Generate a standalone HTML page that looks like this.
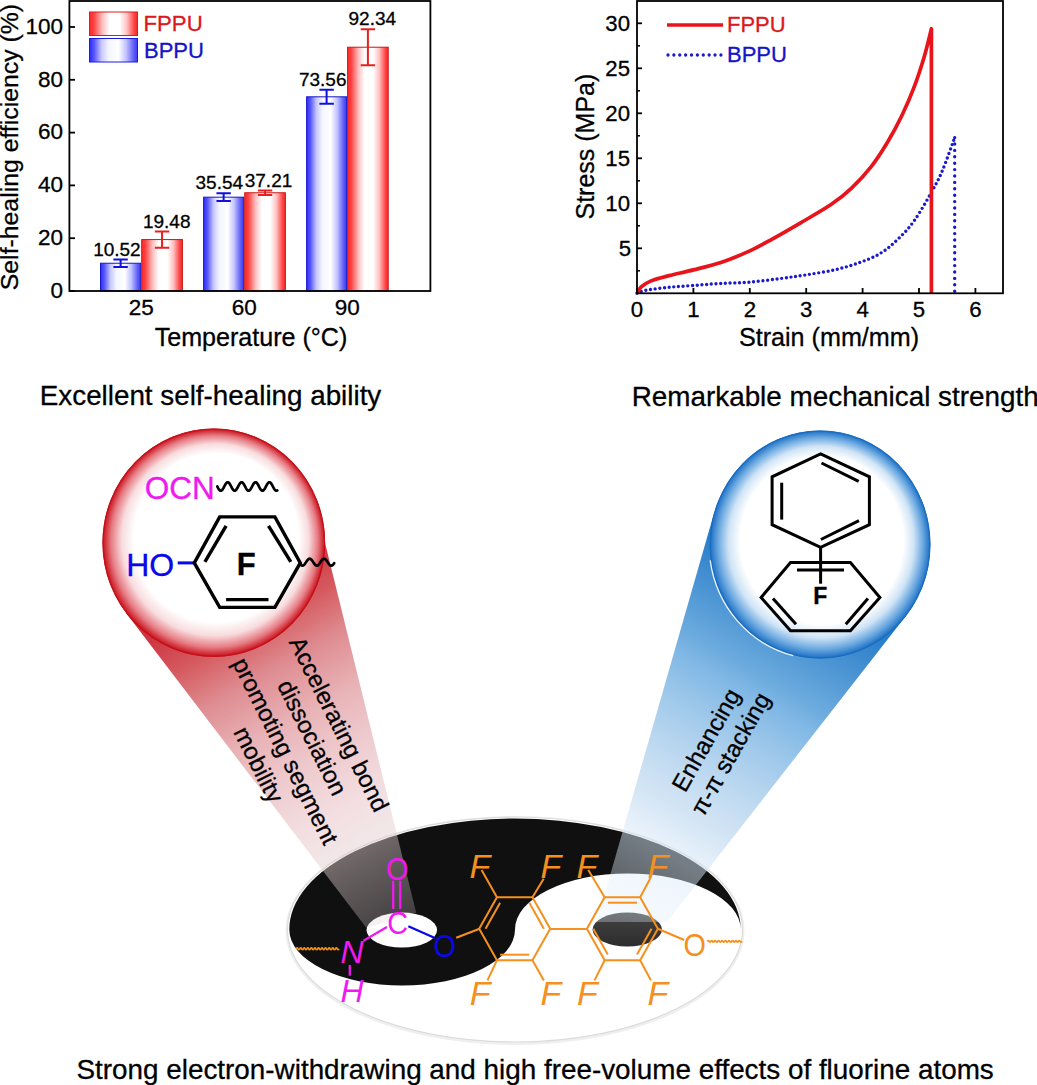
<!DOCTYPE html>
<html><head><meta charset="utf-8"><style>
html,body{margin:0;padding:0;background:#fff;overflow:hidden;width:1037px;height:1085px;}
svg{display:block;}
text{font-family:"Liberation Sans", sans-serif;stroke-width:0.3px;}
</style></head><body>
<svg width="1037" height="1085" viewBox="0 0 1037 1085">
<defs>
<linearGradient id="geye" x1="0" y1="0" x2="0" y2="1">
 <stop offset="0" stop-color="#444"/><stop offset="1" stop-color="#2c2c2c"/>
</linearGradient>
<linearGradient id="gcr" gradientUnits="userSpaceOnUse" x1="214" y1="600" x2="395" y2="925">
 <stop offset="0" stop-color="#cd3240"/>
 <stop offset="0.12" stop-color="#d55a5f"/>
 <stop offset="0.24" stop-color="#de8c91"/>
 <stop offset="0.38" stop-color="#e8b2b6"/>
 <stop offset="0.66" stop-color="#ebc8cd" stop-opacity="0.6"/>
 <stop offset="0.82" stop-color="#dfcfcf" stop-opacity="0.42"/>
 <stop offset="1" stop-color="#dccdd2" stop-opacity="0.25"/>
</linearGradient>
<linearGradient id="gcb" gradientUnits="userSpaceOnUse" x1="820" y1="600" x2="630" y2="925">
 <stop offset="0" stop-color="#287dc8"/>
 <stop offset="0.11" stop-color="#4691d2"/>
 <stop offset="0.26" stop-color="#6eacde"/>
 <stop offset="0.30" stop-color="#7db6e4"/>
 <stop offset="0.68" stop-color="#b9d5ee" stop-opacity="0.6"/>
 <stop offset="0.79" stop-color="#d8e8f8" stop-opacity="0.5"/>
 <stop offset="1" stop-color="#e0eefa" stop-opacity="0.3"/>
</linearGradient>
<radialGradient id="gcirr" cx="0.5" cy="0.5" r="0.5" fx="0.54" fy="0.42">
 <stop offset="0" stop-color="#fff"/><stop offset="0.74" stop-color="#fff"/><stop offset="0.84" stop-color="#f8dcde"/><stop offset="0.93" stop-color="#e67a82"/><stop offset="1" stop-color="#c80c16"/>
</radialGradient>
<radialGradient id="gcirb" cx="0.5" cy="0.5" r="0.5" fx="0.53" fy="0.43">
 <stop offset="0" stop-color="#fff"/><stop offset="0.74" stop-color="#fff"/><stop offset="0.84" stop-color="#d0e4f6"/><stop offset="0.93" stop-color="#6aa8e0"/><stop offset="1" stop-color="#1a6ec4"/>
</radialGradient>

<linearGradient id="gb" x1="0" x2="1" y1="0" y2="0">
 <stop offset="0" stop-color="#2a2aff"/><stop offset="0.1" stop-color="#5a5aff"/><stop offset="0.25" stop-color="#c8c8ff"/><stop offset="0.4" stop-color="#f4f6ff"/><stop offset="0.6" stop-color="#ffffff"/><stop offset="0.76" stop-color="#c4c4ff"/><stop offset="0.92" stop-color="#6060f8"/><stop offset="1" stop-color="#3a3af0"/>
</linearGradient>
<linearGradient id="gr" x1="0" x2="1" y1="0" y2="0">
 <stop offset="0" stop-color="#ff2a2a"/><stop offset="0.08" stop-color="#ff3c3c"/><stop offset="0.27" stop-color="#ffc0c0"/><stop offset="0.42" stop-color="#ffffff"/><stop offset="0.63" stop-color="#ffffff"/><stop offset="0.78" stop-color="#ffc0c0"/><stop offset="0.93" stop-color="#ff4444"/><stop offset="1" stop-color="#f02a2a"/>
</linearGradient>
</defs>
<rect width="1037" height="1085" fill="#fff"/>
<g id="chart1">
<rect x="100.5" y="263.2272" width="40.19999999999999" height="27.772800000000018" fill="url(#gb)" stroke="#1818c8" stroke-width="1"/>
<rect x="141.7" y="239.5728" width="40.70000000000002" height="51.4272" fill="url(#gr)" stroke="#c81818" stroke-width="1"/>
<rect x="203.6" y="197.1744" width="40.099999999999994" height="93.82560000000001" fill="url(#gb)" stroke="#1818c8" stroke-width="1"/>
<rect x="244.7" y="192.7656" width="40.69999999999999" height="98.2344" fill="url(#gr)" stroke="#c81818" stroke-width="1"/>
<rect x="306.6" y="96.80159999999998" width="40.0" height="194.19840000000002" fill="url(#gb)" stroke="#1818c8" stroke-width="1"/>
<rect x="347.6" y="47.22239999999999" width="40.599999999999966" height="243.7776" fill="url(#gr)" stroke="#c81818" stroke-width="1"/>
<path d="M113.39999999999999 259.4256H127.8M120.6 259.4256V267.0288M113.39999999999999 267.0288H127.8" stroke="#1010e0" stroke-width="2" fill="none"/>
<path d="M154.85000000000002 231.3888H169.25M162.05 231.3888V247.7568M154.85000000000002 247.7568H169.25" stroke="#e82020" stroke-width="2" fill="none"/>
<path d="M216.45 193.3464H230.84999999999997M223.64999999999998 193.3464V201.00240000000002M216.45 201.00240000000002H230.84999999999997" stroke="#1010e0" stroke-width="2" fill="none"/>
<path d="M257.84999999999997 190.4688H272.24999999999994M265.04999999999995 190.4688V195.06239999999997M257.84999999999997 195.06239999999997H272.24999999999994" stroke="#e82020" stroke-width="2" fill="none"/>
<path d="M319.40000000000003 89.80559999999997H333.8M326.6 89.80559999999997V103.79759999999999M319.40000000000003 103.79759999999999H333.8" stroke="#1010e0" stroke-width="2" fill="none"/>
<path d="M360.7 29.270399999999995H375.09999999999997M367.9 29.270399999999995V65.17439999999996M360.7 65.17439999999996H375.09999999999997" stroke="#e82020" stroke-width="2" fill="none"/>
<rect x="69.4" y="1" width="361" height="290" fill="none" stroke="#000" stroke-width="1.8"/>
<line x1="69.4" y1="291.0" x2="75" y2="291.0" stroke="#000" stroke-width="1.8"/>
<text x="63" y="297.8" text-anchor="end" font-size="22.5" stroke="#000">0</text>
<line x1="69.4" y1="238.2" x2="75" y2="238.2" stroke="#000" stroke-width="1.8"/>
<text x="63" y="245.0" text-anchor="end" font-size="22.5" stroke="#000">20</text>
<line x1="69.4" y1="185.39999999999998" x2="75" y2="185.39999999999998" stroke="#000" stroke-width="1.8"/>
<text x="63" y="192.2" text-anchor="end" font-size="22.5" stroke="#000">40</text>
<line x1="69.4" y1="132.6" x2="75" y2="132.6" stroke="#000" stroke-width="1.8"/>
<text x="63" y="139.4" text-anchor="end" font-size="22.5" stroke="#000">60</text>
<line x1="69.4" y1="79.79999999999998" x2="75" y2="79.79999999999998" stroke="#000" stroke-width="1.8"/>
<text x="63" y="86.59999999999998" text-anchor="end" font-size="22.5" stroke="#000">80</text>
<line x1="69.4" y1="27.0" x2="75" y2="27.0" stroke="#000" stroke-width="1.8"/>
<text x="63" y="33.8" text-anchor="end" font-size="22.5" stroke="#000">100</text>
<text x="116.9" y="256.4" text-anchor="middle" font-size="19" stroke="#000">10.52</text>
<text x="166.7" y="227.5" text-anchor="middle" font-size="19" stroke="#000">19.48</text>
<text x="219.3" y="189.3" text-anchor="middle" font-size="19" stroke="#000">35.54</text>
<text x="268.5" y="186.8" text-anchor="middle" font-size="19" stroke="#000">37.21</text>
<text x="322.7" y="85.6" text-anchor="middle" font-size="19" stroke="#000">73.56</text>
<text x="372.3" y="24.8" text-anchor="middle" font-size="19" stroke="#000">92.34</text>
<text x="141.2" y="314.5" text-anchor="middle" font-size="22.5" stroke="#000">25</text>
<text x="244.2" y="314.5" text-anchor="middle" font-size="22.5" stroke="#000">60</text>
<text x="347.2" y="314.5" text-anchor="middle" font-size="22.5" stroke="#000">90</text>
<text x="251" y="346.4" text-anchor="middle" font-size="25.1" stroke="#000">Temperature (°C)</text>
<text transform="translate(17.5,147.1) rotate(-90)" text-anchor="middle" font-size="24.8" stroke="#000">Self-healing efficiency (%)</text>
<rect x="89.5" y="12" width="48" height="23.5" fill="url(#gr)" stroke="#e01a1a" stroke-width="1"/>
<rect x="89.5" y="38.5" width="48" height="23.5" fill="url(#gb)" stroke="#1a1ae6" stroke-width="1"/>
<text x="143.5" y="30.8" font-size="22.2" fill="#dc1820" stroke="#dc1820">FPPU</text>
<text x="144" y="58" font-size="22" fill="#1414c8" stroke="#1414c8">BPPU</text>
</g>
<g id="chart2">
<path d="M637.00 293.30 C638.50 292.79 640.67 291.25 646.02 290.24 C651.38 289.24 661.25 288.07 669.15 287.27 C677.04 286.48 684.94 286.10 693.40 285.47 C701.86 284.84 710.51 284.05 719.91 283.49 C729.31 282.94 739.74 282.96 749.80 282.14 C759.86 281.31 770.86 279.75 780.26 278.54 C789.66 277.33 797.18 276.29 806.20 274.85 C815.22 273.41 825.56 271.93 834.40 269.90 C843.24 267.88 851.51 265.49 859.22 262.70 C866.92 259.91 874.20 257.09 880.65 253.16 C887.10 249.23 892.31 244.52 897.91 239.12 C903.50 233.72 908.45 228.88 914.21 220.76 C919.96 212.64 927.69 198.88 932.42 190.43 C937.15 181.99 938.86 178.90 942.58 170.09 C946.29 161.29 952.68 143.01 954.70 137.60" fill="none" stroke="#1a1acc" stroke-width="3.4" stroke-dasharray="0 4.7" stroke-linecap="round"/>
<path d="M954.70 137.6 L954.70 293.3" fill="none" stroke="#1a1acc" stroke-width="3.4" stroke-dasharray="0 6.4" stroke-linecap="round"/>
<path d="M637.00 293.30 C637.75 292.21 639.16 288.80 641.51 286.73 C643.86 284.66 646.49 282.73 651.10 280.88 C655.71 279.03 662.10 277.49 669.15 275.66 C676.20 273.83 684.66 272.14 693.40 269.90 C702.14 267.67 712.20 265.43 721.60 262.25 C731.00 259.07 741.37 254.68 749.80 250.82 C758.23 246.97 763.72 243.78 772.19 239.12 C780.66 234.46 790.81 228.59 800.62 222.83 C810.42 217.07 822.57 210.31 831.02 204.56 C839.47 198.81 844.55 194.78 851.32 188.36 C858.09 181.94 865.54 173.81 871.62 166.04 C877.71 158.27 882.74 150.20 887.81 141.74 C892.88 133.28 897.62 124.42 902.02 115.28 C906.42 106.14 910.49 96.73 914.21 86.93 C917.92 77.14 921.43 66.22 924.30 56.51 C927.17 46.81 930.22 33.34 931.41 28.70 L931.41 293.3" fill="none" stroke="#e8141c" stroke-width="3.7" stroke-linejoin="round"/>
<rect x="637" y="1" width="366" height="292.3" fill="none" stroke="#000" stroke-width="1.8"/>
<line x1="637" y1="248.3" x2="642" y2="248.3" stroke="#000" stroke-width="1.8"/>
<text x="631" y="255.8" text-anchor="end" font-size="22.2" stroke="#000">5</text>
<line x1="637" y1="203.3" x2="642" y2="203.3" stroke="#000" stroke-width="1.8"/>
<text x="630" y="210.8" text-anchor="end" font-size="22.2" stroke="#000">10</text>
<line x1="637" y1="158.3" x2="642" y2="158.3" stroke="#000" stroke-width="1.8"/>
<text x="630" y="165.8" text-anchor="end" font-size="22.2" stroke="#000">15</text>
<line x1="637" y1="113.30000000000001" x2="642" y2="113.30000000000001" stroke="#000" stroke-width="1.8"/>
<text x="630" y="120.80000000000001" text-anchor="end" font-size="22.2" stroke="#000">20</text>
<line x1="637" y1="68.30000000000001" x2="642" y2="68.30000000000001" stroke="#000" stroke-width="1.8"/>
<text x="630" y="75.80000000000001" text-anchor="end" font-size="22.2" stroke="#000">25</text>
<line x1="637" y1="23.30000000000001" x2="642" y2="23.30000000000001" stroke="#000" stroke-width="1.8"/>
<text x="630" y="30.80000000000001" text-anchor="end" font-size="22.2" stroke="#000">30</text>
<line x1="637" y1="270.8" x2="640" y2="270.8" stroke="#000" stroke-width="1.5"/>
<line x1="637" y1="225.8" x2="640" y2="225.8" stroke="#000" stroke-width="1.5"/>
<line x1="637" y1="180.8" x2="640" y2="180.8" stroke="#000" stroke-width="1.5"/>
<line x1="637" y1="135.8" x2="640" y2="135.8" stroke="#000" stroke-width="1.5"/>
<line x1="637" y1="90.80000000000001" x2="640" y2="90.80000000000001" stroke="#000" stroke-width="1.5"/>
<line x1="637" y1="45.80000000000001" x2="640" y2="45.80000000000001" stroke="#000" stroke-width="1.5"/>
<line x1="637.0" y1="293.3" x2="637.0" y2="288" stroke="#000" stroke-width="1.8"/>
<text x="637.0" y="316.8" text-anchor="middle" font-size="22.2" stroke="#000">0</text>
<line x1="693.4" y1="293.3" x2="693.4" y2="288" stroke="#000" stroke-width="1.8"/>
<text x="693.4" y="316.8" text-anchor="middle" font-size="22.2" stroke="#000">1</text>
<line x1="749.8" y1="293.3" x2="749.8" y2="288" stroke="#000" stroke-width="1.8"/>
<text x="749.8" y="316.8" text-anchor="middle" font-size="22.2" stroke="#000">2</text>
<line x1="806.2" y1="293.3" x2="806.2" y2="288" stroke="#000" stroke-width="1.8"/>
<text x="806.2" y="316.8" text-anchor="middle" font-size="22.2" stroke="#000">3</text>
<line x1="862.6" y1="293.3" x2="862.6" y2="288" stroke="#000" stroke-width="1.8"/>
<text x="862.6" y="316.8" text-anchor="middle" font-size="22.2" stroke="#000">4</text>
<line x1="919.0" y1="293.3" x2="919.0" y2="288" stroke="#000" stroke-width="1.8"/>
<text x="919.0" y="316.8" text-anchor="middle" font-size="22.2" stroke="#000">5</text>
<line x1="975.4" y1="293.3" x2="975.4" y2="288" stroke="#000" stroke-width="1.8"/>
<text x="975.4" y="316.8" text-anchor="middle" font-size="22.2" stroke="#000">6</text>
<text x="829" y="345.5" text-anchor="middle" font-size="25.15" stroke="#000">Strain (mm/mm)</text>
<text transform="translate(594,146.6) rotate(-90)" text-anchor="middle" font-size="25" stroke="#000">Stress (MPa)</text>
<line x1="667" y1="25" x2="723" y2="25" stroke="#e8141c" stroke-width="3.5"/>
<line x1="668" y1="55" x2="721" y2="55" stroke="#1a1acc" stroke-width="3.3" stroke-dasharray="0 5.88" stroke-linecap="round"/>
<text x="727" y="32.4" font-size="22" fill="#dc1820" stroke="#dc1820">FPPU</text>
<text x="727" y="62" font-size="22" fill="#1414c8" stroke="#1414c8">BPPU</text>
</g>
<text x="39.8" y="405" font-size="27.8" stroke="#000">Excellent self-healing ability</text>
<text x="631.7" y="405.6" font-size="27.85" stroke="#000">Remarkable mechanical strength</text>
<text x="76.5" y="1079" font-size="27.85" stroke="#000">Strong electron-withdrawing and high free-volume effects of fluorine atoms</text>
<ellipse cx="515.0" cy="930.5" rx="228.0" ry="113.0" fill="none" stroke="#efefef" stroke-width="3"/>
<ellipse cx="515.0" cy="929.5" rx="227.5" ry="112.5" fill="#fff" stroke="#dcdcdc" stroke-width="1.2"/>
<path d="M289.3 929.5 A225.7 111.0 0 0 1 740.7 929.5 A112.85000000000002 56 0 0 0 515.0 929.5 A112.85 56 0 0 1 289.3 929.5 Z" fill="#101010"/>
<ellipse cx="401.8" cy="930.1" rx="35.3" ry="17.5" fill="#fff"/>
<ellipse cx="627.3" cy="929.5" rx="34.7" ry="17" fill="url(#geye)"/>
<path d="M126.1 613 L366.5 928 L416.2 912.8 L318.3 515.6 L213.8 542.7 Z" fill="url(#gcr)"/>
<path d="M714.3 512.2 L596.7 922 L666.9 922 L905.9 616 L820.1 544.5 Z" fill="url(#gcb)"/>
<path d="M296.3 948.8 Q297.18958333333336 947.0 298.07916666666665 948.8 Q298.96875 950.5999999999999 299.85833333333335 948.8 Q300.7479166666667 947.0 301.6375 948.8 Q302.52708333333334 950.5999999999999 303.4166666666667 948.8 Q304.30625000000003 947.0 305.1958333333333 948.8 Q306.0854166666667 950.5999999999999 306.975 948.8 Q307.86458333333337 947.0 308.75416666666666 948.8 Q309.64375 950.5999999999999 310.53333333333336 948.8 Q311.4229166666667 947.0 312.3125 948.8 Q313.20208333333335 950.5999999999999 314.0916666666667 948.8 Q314.98125000000005 947.0 315.87083333333334 948.8 Q316.7604166666667 950.5999999999999 317.65000000000003 948.8 Q318.5395833333333 947.0 319.4291666666666 948.8 Q320.31874999999997 950.5999999999999 321.2083333333333 948.8 Q322.09791666666666 947.0 322.98749999999995 948.8 Q323.8770833333333 950.5999999999999 324.76666666666665 948.8 Q325.65625 947.0 326.5458333333333 948.8 Q327.43541666666664 950.5999999999999 328.325 948.8 Q329.21458333333334 947.0 330.10416666666663 948.8 Q330.99375 950.5999999999999 331.8833333333333 948.8 Q332.7729166666667 947.0 333.66249999999997 948.8 Q334.5520833333333 950.5999999999999 335.44166666666666 948.8 Q336.33125 947.0 337.2208333333333 948.8 Q338.11041666666665 950.5999999999999 339.0 948.8" fill="none" stroke="#f5901e" stroke-width="1.6"/>
<path d="M707.3 941.4 Q708.1674999999999 939.6 709.035 941.4 Q709.9024999999999 943.1999999999999 710.77 941.4 Q711.6374999999999 939.6 712.505 941.4 Q713.3725 943.1999999999999 714.24 941.4 Q715.1075 939.6 715.975 941.4 Q716.8425 943.1999999999999 717.71 941.4 Q718.5774999999999 939.6 719.4449999999999 941.4 Q720.3124999999999 943.1999999999999 721.18 941.4 Q722.0474999999999 939.6 722.915 941.4 Q723.7824999999999 943.1999999999999 724.65 941.4 Q725.5174999999999 939.6 726.385 941.4 Q727.2524999999999 943.1999999999999 728.12 941.4 Q728.9875 939.6 729.855 941.4 Q730.7225 943.1999999999999 731.59 941.4 Q732.4575 939.6 733.325 941.4 Q734.1925 943.1999999999999 735.0600000000001 941.4 Q735.9274999999999 939.6 736.795 941.4 Q737.6624999999999 943.1999999999999 738.53 941.4 Q739.3974999999999 939.6 740.265 941.4 Q741.1324999999999 943.1999999999999 742.0 941.4" fill="none" stroke="#f5901e" stroke-width="1.6"/>
<text x="397.3" y="880.3" text-anchor="middle" font-size="32" fill="#f01af0" stroke="none" transform="translate(397.3 0) scale(0.9 1) translate(-397.3 0)">O</text>
<line x1="393.2" y1="880.7" x2="393.2" y2="909" stroke="#f01af0" stroke-width="2.3" stroke-linecap="butt"/>
<line x1="400.2" y1="880.7" x2="400.2" y2="909" stroke="#f01af0" stroke-width="2.3" stroke-linecap="butt"/>
<text x="397.6" y="933.8" text-anchor="middle" font-size="32" fill="#f01af0" stroke="none" transform="translate(397.6 0) scale(0.9 1) translate(-397.6 0)">C</text>
<line x1="387" y1="927" x2="363.4" y2="940.8" stroke="#f01af0" stroke-width="2.3" stroke-linecap="butt"/>
<text x="352" y="962.8" text-anchor="middle" font-size="32" font-style="italic" fill="#f01af0" stroke="none">N</text>
<line x1="349.8" y1="965" x2="349.8" y2="975.7" stroke="#f01af0" stroke-width="2.3" stroke-linecap="butt"/>
<text x="352" y="1001.6" text-anchor="middle" font-size="32" font-style="italic" fill="#f01af0" stroke="none">H</text>
<line x1="408.3" y1="926.3" x2="434.9" y2="938" stroke="#0808e8" stroke-width="2.3" stroke-linecap="butt"/>
<text x="444.8" y="957.5" text-anchor="middle" font-size="32" fill="#0808e8" stroke="none" transform="translate(444.8 0) scale(0.9 1) translate(-444.8 0)">O</text>
<line x1="456.2" y1="937.7" x2="479.6" y2="928.7" stroke="#f5901e" stroke-width="2.2" stroke-linecap="butt"/>
<path d="M479.20 928.70 L496.95 897.20 L532.45 897.20 L550.20 928.70 L532.45 960.20 L496.95 960.20 Z" fill="none" stroke="#f5901e" stroke-width="2.0" stroke-linejoin="miter"/>
<line x1="485.53" y1="928.67" x2="500.09" y2="902.84" stroke="#f5901e" stroke-width="2.0" stroke-linecap="butt"/>
<line x1="529.31" y1="902.84" x2="543.87" y2="928.67" stroke="#f5901e" stroke-width="2.0" stroke-linecap="butt"/>
<line x1="529.25" y1="954.7" x2="500.15" y2="954.7" stroke="#f5901e" stroke-width="2.0" stroke-linecap="butt"/>
<path d="M586.90 928.70 L604.65 897.20 L640.15 897.20 L657.90 928.70 L640.15 960.20 L604.65 960.20 Z" fill="none" stroke="#f5901e" stroke-width="2.0" stroke-linejoin="miter"/>
<line x1="607.85" y1="902.7" x2="636.95" y2="902.7" stroke="#f5901e" stroke-width="2.0" stroke-linecap="butt"/>
<line x1="651.57" y1="928.73" x2="637.01" y2="954.56" stroke="#f5901e" stroke-width="2.0" stroke-linecap="butt"/>
<line x1="607.79" y1="954.56" x2="593.23" y2="928.73" stroke="#f5901e" stroke-width="2.0" stroke-linecap="butt"/>
<line x1="550.2" y1="929" x2="586.9" y2="929" stroke="#f5901e" stroke-width="2.0" stroke-linecap="butt"/>
<line x1="657.9" y1="928.7" x2="684.2" y2="939.9" stroke="#f5901e" stroke-width="2.2" stroke-linecap="butt"/>
<text x="694.8" y="956.4" text-anchor="middle" font-size="32" fill="#f5901e" stroke="none" transform="translate(694.8 0) scale(0.9 1) translate(-694.8 0)">O</text>
<line x1="496.95000000000005" y1="897.2" x2="481.6" y2="870" stroke="#f5901e" stroke-width="2.0" stroke-linecap="butt"/>
<text x="479.8" y="878.3" text-anchor="middle" font-size="34" font-style="italic" fill="#f5901e" stroke="none">F</text>
<line x1="532.45" y1="897.2" x2="543.7" y2="878.8" stroke="#f5901e" stroke-width="2.0" stroke-linecap="butt"/>
<text x="550.8" y="878.3" text-anchor="middle" font-size="34" font-style="italic" fill="#f5901e" stroke="none">F</text>
<line x1="604.65" y1="897.2" x2="588.3" y2="870" stroke="#f5901e" stroke-width="2.0" stroke-linecap="butt"/>
<text x="587" y="878.3" text-anchor="middle" font-size="34" font-style="italic" fill="#f5901e" stroke="none">F</text>
<line x1="640.15" y1="897.2" x2="650.5" y2="878" stroke="#f5901e" stroke-width="2.0" stroke-linecap="butt"/>
<text x="658" y="878.3" text-anchor="middle" font-size="34" font-style="italic" fill="#f5901e" stroke="none">F</text>
<line x1="496.95000000000005" y1="960.2" x2="487.5" y2="980.4" stroke="#f5901e" stroke-width="2.0" stroke-linecap="butt"/>
<text x="480.2" y="1005.2" text-anchor="middle" font-size="34" font-style="italic" fill="#f5901e" stroke="none">F</text>
<line x1="532.45" y1="960.2" x2="543.9" y2="980.4" stroke="#f5901e" stroke-width="2.0" stroke-linecap="butt"/>
<text x="551" y="1005.2" text-anchor="middle" font-size="34" font-style="italic" fill="#f5901e" stroke="none">F</text>
<line x1="604.65" y1="960.2" x2="594.5" y2="980.4" stroke="#f5901e" stroke-width="2.0" stroke-linecap="butt"/>
<text x="587.3" y="1005.2" text-anchor="middle" font-size="34" font-style="italic" fill="#f5901e" stroke="none">F</text>
<line x1="640.15" y1="960.2" x2="650.9" y2="980.4" stroke="#f5901e" stroke-width="2.0" stroke-linecap="butt"/>
<text x="658" y="1005.2" text-anchor="middle" font-size="34" font-style="italic" fill="#f5901e" stroke="none">F</text>
<ellipse cx="213.8" cy="542.7" rx="111.3" ry="114.1" fill="url(#gcirr)"/>
<ellipse cx="213.8" cy="542.7" rx="110.8" ry="113.6" fill="none" stroke="#c4101a" stroke-width="1.2"/>
<ellipse cx="820.1" cy="544.5" rx="110.3" ry="113.9" fill="url(#gcirb)"/>
<ellipse cx="820.1" cy="544.5" rx="109.8" ry="113.4" fill="none" stroke="#1a6cc0" stroke-width="1.2"/>
<path d="M710.2 560.4 A111.0 114.6 0 0 0 793.2 655.7" fill="none" stroke="#fff" stroke-width="1.3" stroke-opacity="0.9"/>
<text x="179.7" y="499.2" text-anchor="middle" font-size="31.5" fill="#f01af0" stroke="#f01af0">OCN</text>
<path d="M217.30 486.50 L217.63 487.13 L217.96 487.75 L218.29 488.35 L218.63 488.90 L218.96 489.39 L219.29 489.83 L219.62 490.18 L219.95 490.46 L220.28 490.65 L220.61 490.74 L220.95 490.74 L221.28 490.64 L221.61 490.45 L221.94 490.17 L222.27 489.81 L222.60 489.38 L222.94 488.88 L223.27 488.33 L223.60 487.73 L223.93 487.11 L224.26 486.48 L224.59 485.84 L224.92 485.22 L225.26 484.63 L225.59 484.08 L225.92 483.59 L226.25 483.16 L226.58 482.80 L226.91 482.53 L227.24 482.35 L227.58 482.26 L227.91 482.26 L228.24 482.36 L228.57 482.56 L228.90 482.84 L229.23 483.20 L229.57 483.64 L229.90 484.14 L230.23 484.69 L230.56 485.29 L230.89 485.91 L231.22 486.54 L231.55 487.18 L231.89 487.80 L232.22 488.39 L232.55 488.93 L232.88 489.43 L233.21 489.85 L233.54 490.21 L233.87 490.47 L234.21 490.65 L234.54 490.74 L234.87 490.73 L235.20 490.63 L235.53 490.44 L235.86 490.15 L236.20 489.79 L236.53 489.35 L236.86 488.84 L237.19 488.29 L237.52 487.69 L237.85 487.07 L238.18 486.43 L238.52 485.80 L238.85 485.18 L239.18 484.59 L239.51 484.05 L239.84 483.56 L240.17 483.13 L240.50 482.78 L240.84 482.52 L241.17 482.34 L241.50 482.26 L241.83 482.27 L242.16 482.37 L242.49 482.57 L242.82 482.86 L243.16 483.23 L243.49 483.67 L243.82 484.17 L244.15 484.73 L244.48 485.33 L244.81 485.95 L245.15 486.59 L245.48 487.22 L245.81 487.84 L246.14 488.42 L246.47 488.97 L246.80 489.46 L247.13 489.88 L247.47 490.23 L247.80 490.49 L248.13 490.66 L248.46 490.74 L248.79 490.73 L249.12 490.62 L249.45 490.42 L249.79 490.13 L250.12 489.76 L250.45 489.31 L250.78 488.81 L251.11 488.25 L251.44 487.65 L251.78 487.03 L252.11 486.39 L252.44 485.76 L252.77 485.14 L253.10 484.56 L253.43 484.01 L253.76 483.53 L254.10 483.11 L254.43 482.76 L254.76 482.50 L255.09 482.33 L255.42 482.25 L255.75 482.27 L256.08 482.39 L256.42 482.59 L256.75 482.88 L257.08 483.26 L257.41 483.70 L257.74 484.21 L258.07 484.77 L258.40 485.37 L258.74 485.99 L259.07 486.63 L259.40 487.26 L259.73 487.88 L260.06 488.46 L260.39 489.00 L260.73 489.49 L261.06 489.91 L261.39 490.25 L261.72 490.50 L262.05 490.67 L262.38 490.75 L262.71 490.73 L263.05 490.61 L263.38 490.40 L263.71 490.11 L264.04 489.73 L264.37 489.28 L264.70 488.77 L265.03 488.21 L265.37 487.61 L265.70 486.98 L266.03 486.35 L266.36 485.72 L266.69 485.10 L267.02 484.52 L267.36 483.98 L267.69 483.50 L268.02 483.08 L268.35 482.74 L268.68 482.49 L269.01 482.32 L269.34 482.25 L269.68 482.28 L270.01 482.40 L270.34 482.61 L270.67 482.91 L271.00 483.28 L271.33 483.74 L271.66 484.25 L272.00 484.81 L272.33 485.41 L272.66 486.04 L272.99 486.67 L273.32 487.31 L273.65 487.92 L273.99 488.50 L274.32 489.04 L274.65 489.52 L274.98 489.93 L275.31 490.27 L275.64 490.52 L275.97 490.68 L276.31 490.75 L276.64 490.72 L276.97 490.60 L277.30 490.38" fill="none" stroke="#000" stroke-width="2.7" stroke-linecap="round" stroke-linejoin="round"/>
<text x="150.2" y="575.6" text-anchor="middle" font-size="32" fill="#0808e8" stroke="#0808e8">HO</text>
<line x1="177.7" y1="562.9" x2="194.3" y2="562.9" stroke="#0808e8" stroke-width="3" stroke-linecap="butt"/>
<path d="M194.3 562.9 L219.7 516.9 L274.9 516.9 L300.3 562.9 L274.9 607.4 L219.7 607.4 Z" fill="none" stroke="#000" stroke-width="3.4" stroke-linejoin="miter"/>
<line x1="204.9" y1="561.8" x2="226.1" y2="525.8" stroke="#000" stroke-width="3.4" stroke-linecap="butt"/>
<line x1="268.5" y1="525.8" x2="290.8" y2="561.8" stroke="#000" stroke-width="3.4" stroke-linecap="butt"/>
<line x1="226.1" y1="599.6" x2="268.5" y2="599.6" stroke="#000" stroke-width="3.4" stroke-linecap="butt"/>
<text x="246.2" y="574.6" text-anchor="middle" font-size="31" font-weight="bold" fill="#000" stroke="#000">F</text>
<path d="M300.30 564.26 L300.63 564.64 L300.96 564.98 L301.30 565.26 L301.63 565.47 L301.96 565.62 L302.29 565.69 L302.63 565.69 L302.96 565.62 L303.29 565.47 L303.62 565.26 L303.96 564.98 L304.29 564.64 L304.62 564.26 L304.95 563.83 L305.29 563.36 L305.62 562.87 L305.95 562.37 L306.28 561.86 L306.61 561.36 L306.95 560.88 L307.28 560.42 L307.61 560.01 L307.94 559.64 L308.28 559.32 L308.61 559.06 L308.94 558.87 L309.27 558.75 L309.61 558.70 L309.94 558.73 L310.27 558.82 L310.60 558.99 L310.94 559.23 L311.27 559.53 L311.60 559.88 L311.93 560.28 L312.26 560.73 L312.60 561.20 L312.93 561.70 L313.26 562.20 L313.59 562.71 L313.93 563.20 L314.26 563.68 L314.59 564.12 L314.92 564.52 L315.26 564.88 L315.59 565.17 L315.92 565.41 L316.25 565.58 L316.59 565.67 L316.92 565.70 L317.25 565.65 L317.58 565.53 L317.91 565.34 L318.25 565.08 L318.58 564.76 L318.91 564.39 L319.24 563.97 L319.58 563.52 L319.91 563.03 L320.24 562.53 L320.57 562.03 L320.91 561.52 L321.24 561.03 L321.57 560.57 L321.90 560.14 L322.24 559.75 L322.57 559.42 L322.90 559.14 L323.23 558.93 L323.56 558.78 L323.90 558.71 L324.23 558.71 L324.56 558.78 L324.89 558.93 L325.23 559.14 L325.56 559.42 L325.89 559.76 L326.22 560.15 L326.56 560.58 L326.89 561.04 L327.22 561.53 L327.55 562.04 L327.89 562.54 L328.22 563.04 L328.55 563.53 L328.88 563.98 L329.21 564.40 L329.55 564.77 L329.88 565.08 L330.21 565.34 L330.54 565.53 L330.88 565.65 L331.21 565.70 L331.54 565.67 L331.87 565.58 L332.21 565.41 L332.54 565.17 L332.87 564.87 L333.20 564.52 L333.54 564.11 L333.87 563.67 L334.20 563.19" fill="none" stroke="#000" stroke-width="2.7" stroke-linecap="round" stroke-linejoin="round"/>
<path d="M820.6 453.8 L869.4 476.8 L869.4 524.7 L820.6 547.4 L772.1 524.7 L772.1 476.8 Z" fill="none" stroke="#000" stroke-width="3" stroke-linejoin="miter"/>
<line x1="821.5" y1="463" x2="858.7" y2="481.4" stroke="#000" stroke-width="3" stroke-linecap="butt"/>
<line x1="781.7" y1="482.7" x2="781.7" y2="519.6" stroke="#000" stroke-width="3" stroke-linecap="butt"/>
<line x1="820.9" y1="539.5" x2="859" y2="520.7" stroke="#000" stroke-width="3" stroke-linecap="butt"/>
<line x1="820.6" y1="547.4" x2="820.6" y2="583.7" stroke="#000" stroke-width="3" stroke-linecap="butt"/>
<path d="M790.5 562.5 L850.4 562.5 L879.9 597.5 L850.4 630.7 L790.5 630.7 L761.1 597.5 Z" fill="none" stroke="#000" stroke-width="3" stroke-linejoin="miter"/>
<line x1="797" y1="569.9" x2="844" y2="569.9" stroke="#000" stroke-width="3" stroke-linecap="butt"/>
<line x1="773" y1="598.4" x2="796" y2="624.2" stroke="#000" stroke-width="3" stroke-linecap="butt"/>
<line x1="867.9" y1="598.4" x2="845.8" y2="624.2" stroke="#000" stroke-width="3" stroke-linecap="butt"/>
<text x="820.3" y="604" text-anchor="middle" font-size="23" font-weight="bold" fill="#000" stroke="#000">F</text>
<g transform="translate(299.5,744) rotate(63.3)" font-size="24" text-anchor="middle" stroke="#000"><text x="0" y="-36" stroke="#000">Accelerating bond</text><text x="0" y="-6" stroke="#000">dissociation</text><text x="0" y="24" stroke="#000">promoting segment</text><text x="0" y="54" stroke="#000">mobility</text></g>
<g transform="translate(717.5,746.5) rotate(-60.5)" font-size="24" text-anchor="middle" stroke="#000"><text x="0" y="-5" stroke="#000">Enhancing</text><text x="0" y="23" stroke="#000">π-π stacking</text></g>
</svg></body></html>
